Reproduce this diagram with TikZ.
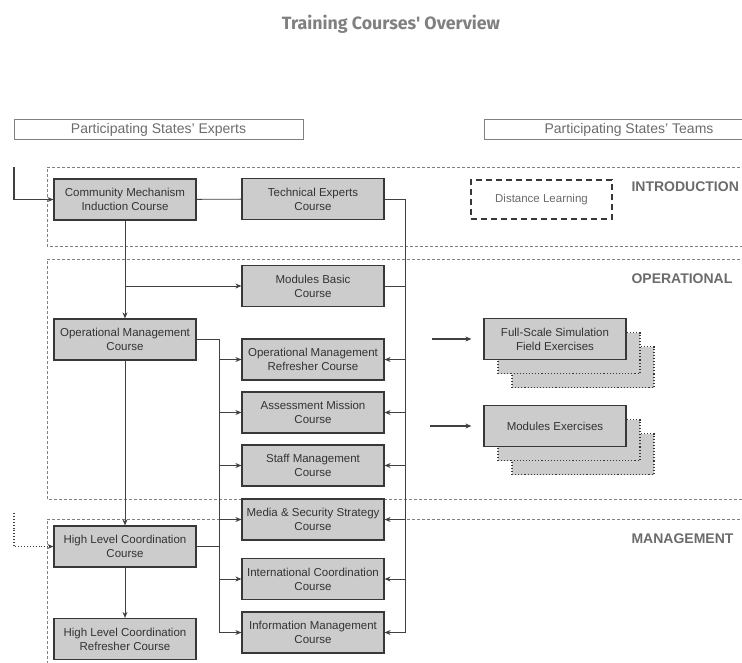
\documentclass[tikz,border=0pt]{standalone}
\usepackage{fontspec}
\setmainfont{Liberation Sans}
\newfontfamily\titlefont{Fira Sans}
\usetikzlibrary{positioning, arrows.meta}
\definecolor{boxfill}{gray}{0.8}
\definecolor{boxline}{gray}{0.22}
\definecolor{labelgray}{gray}{0.42}
\begin{document}
\begin{tikzpicture}[x=1pt, y=-1pt, >={Stealth[length=6pt, width=5pt]},
  course/.style={draw=boxline, line width=1.2pt, fill=boxfill, text=black!80,
    minimum width=142pt, minimum height=41pt, align=center,
    font=\fontsize{11.5}{14}\selectfont},
  copybox/.style={draw=boxline, line width=1.1pt, dotted, fill=boxfill,
    minimum width=142pt, minimum height=41pt},
  header/.style={draw=gray, line width=0.8pt, minimum height=19pt, text=labelgray,
    font=\fontsize{14}{16}\selectfont},
  region/.style={draw=gray, dashed, dash pattern=on 3pt off 2pt, line width=0.6pt},
  section/.style={anchor=west, text=labelgray, font=\fontsize{14}{16}\selectfont\bfseries},
  link/.style={draw=black!75, line width=0.9pt}]
  \useasboundingbox (0,0) rectangle (742,662);
  \node (title) at (391,24) {\titlefont\bfseries\fontsize{17.8}{21}\selectfont\color{gray}Training Courses' Overview};
  \node[header, minimum width=289pt] (hexp) at (158.5,129.5) {Participating States' Experts};
  \node[header, minimum width=290pt] (hteam) at (629,129.5) {Participating States' Teams};
  % phases
  \draw[region] (745,167) -- (47,167) -- (47,246) -- (745,246);
  \draw[region] (745,259) -- (47,259) -- (47,499) -- (745,499);
  \draw[region] (745,519) -- (47,519) -- (47,665);
  \node[section] (intro) at (628,187) {INTRODUCTION};
  \node[section] (oper) at (628,279) {OPERATIONAL};
  \node[section] (mgmt) at (628,539) {MANAGEMENT};
  % courses
  \node[course] (cmic) at (125,199.5) {Community Mechanism\\Induction Course};
  \node[course] (tec) at (313,199) {Technical Experts\\Course};
  \node[course] (mbc) at (313,286) {Modules Basic\\Course};
  \node[course] (omc) at (125,339.5) {Operational Management\\Course};
  \node[course] (omrc) at (313,359.5) {Operational Management\\Refresher Course};
  \node[course] (amc) at (313,412.5) {Assessment Mission\\Course};
  \node[course] (smc) at (313,465.5) {Staff Management\\Course};
  \node[course] (mssc) at (313,519.5) {Media \& Security Strategy\\Course};
  \node[course] (icc) at (313,579) {International Coordination\\Course};
  \node[course] (imc) at (313,632.5) {Information Management\\Course};
  \node[course] (hlcc) at (125,546.5) {High Level Coordination\\Course};
  \node[course] (hlcrc) at (125,639) {High Level Coordination\\Refresher Course};
  \node[draw=boxline, line width=1.6pt, dashed, dash pattern=on 6pt off 4pt,
    minimum width=141pt, minimum height=39pt, text=labelgray,
    font=\fontsize{11.5}{14}\selectfont] (dl) at (541.5,199.5) {Distance Learning};
  % exercises
  \node[copybox] (fse3) at (583,367) {};
  \node[copybox] (fse2) at (569,353) {};
  \node[course] (fse) at (555,339) {Full-Scale Simulation\\Field Exercises};
  \node[copybox] (me3) at (583,454) {};
  \node[copybox] (me2) at (569,440) {};
  \node[course] (me) at (555,426) {Modules Exercises};
  % buses
  \coordinate (lbus) at (219,0);
  \coordinate (rbus) at (405,0);
  \coordinate (entry) at (14,167);
  \coordinate (lateentry) at (14,513);
  \coordinate (fsin) at (432,339);
  \coordinate (mein) at (430,426);
  \draw[link, ->, line width=1.3pt] (entry) |- (cmic.west);
  \draw[link, ->, dotted, line width=1.6pt] (lateentry) |- (hlcc.west);
  \draw[link] (cmic) -- (tec);
  \draw[link] (tec.east) -- (tec.east -| rbus) -- (imc.east -| rbus);
  \draw[link] (mbc.east) -- (mbc.east -| rbus);
  \draw[link, ->] (cmic) -- (omc);
  \draw[link, ->] (cmic.south |- mbc) -- (mbc);
  \draw[link, ->] (omc) -- (hlcc);
  \draw[link, ->] (hlcc) -- (hlcrc);
  \draw[link] (omc.east) -- (omc.east -| lbus) -- (imc.west -| lbus);
  \draw[link] (hlcc.east) -- (hlcc.east -| lbus);
  \foreach \c in {omrc,amc,smc,mssc,icc,imc} {
    \draw[link, ->] (\c.west -| lbus) -- (\c.west);
    \draw[link, ->] (\c.east -| rbus) -- (\c.east);
  }
  \draw[link, ->, line width=1.3pt, shorten >=12pt] (fsin) -- (fse.west);
  \draw[link, ->, line width=1.3pt, shorten >=12pt] (mein) -- (me.west);
\end{tikzpicture}
\end{document}
